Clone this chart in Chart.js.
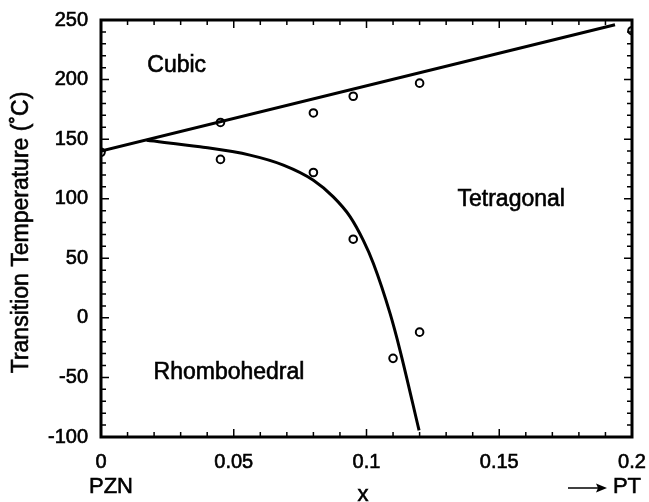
<!DOCTYPE html>
<html>
<head>
<meta charset="utf-8">
<script src="https://cdn.jsdelivr.net/npm/chart.js@4.4.0/dist/chart.umd.min.js"></script>
<style>
    html, body { margin: 0; padding: 0; background: #fff; }
</style>
</head>
<body>
<canvas id="diagramaFases" width="649" height="502"></canvas>
<script>
// Datos medidos (círculos)
const puntosX = [0, 0.045, 0.045, 0.08, 0.08, 0.095, 0.095, 0.12, 0.2, 0.11, 0.12];
const puntosY = [139, 164, 133, 172, 122, 186, 66, 197, 241, -34, -12];

// Frontera cúbica (recta)
const lineaCubicaX = [0, 0.1936];
const lineaCubicaY = [140, 246];

// Frontera romboédrica / tetragonal (curva)
const curvaRomboX = [0.0172, 0.0373, 0.0561, 0.0687, 0.08, 0.0875, 0.0938, 0.0988, 0.1026, 0.1089, 0.1126, 0.1198];
const curvaRomboY = [149, 143.6, 136.6, 128.2, 115.5, 101.5, 85, 65, 45.6, 3.5, -27, -94.5];

// Etiquetas de los ejes
const xTickLabels = ["0", "0.05", "0.1", "0.15", "0.2"];
const yTickLabels = ["-100", "-50", "0", "50", "100", "150", "200", "250"];

// Nombres de fases (posición en unidades de datos)
const fases = ["Cubic", "Tetragonal", "Rhombohedral"];
const fasesX = [0.0285, 0.1545, 0.0482];
const fasesY = [212, 99, -46];

const fuente = "'Liberation Sans', Arial, Helvetica, sans-serif";

function aPuntos(xs, ys) {
    return xs.map((x, i) => ({ x: x, y: ys[i] }));
}

// texto con un trazo fino para que se vea como el original escaneado
function texto(ctx, txt, x, y) {
    ctx.strokeText(txt, x, y);
    ctx.fillText(txt, x, y);
}

// Marco, marcas interiores y textos extra
const decoracion = {
    id: "decoracion",
    afterDraw(chart) {
        const ctx = chart.ctx;
        const area = chart.chartArea;
        const sx = chart.scales.x;
        const sy = chart.scales.y;

        ctx.save();
        ctx.strokeStyle = "#000";

        // marcas del eje x (abajo y arriba)
        ctx.lineWidth = 1.5;
        for (let i = 0; i <= 20; i++) {
            const px = sx.getPixelForValue(i * 0.01);
            const largo = i % 5 === 0 ? 8 : 5;
            ctx.beginPath();
            ctx.moveTo(px, area.bottom);
            ctx.lineTo(px, area.bottom - largo);
            ctx.moveTo(px, area.top);
            ctx.lineTo(px, area.top + largo);
            ctx.stroke();
        }
        // marcas del eje y (izquierda y derecha)
        for (let v = -100; v <= 250; v += 10) {
            const py = sy.getPixelForValue(v);
            const largo = v % 50 === 0 ? 8 : 5;
            ctx.beginPath();
            ctx.moveTo(area.left, py);
            ctx.lineTo(area.left + largo, py);
            ctx.moveTo(area.right, py);
            ctx.lineTo(area.right - largo, py);
            ctx.stroke();
        }

        // marco
        ctx.lineWidth = 3;
        ctx.strokeRect(area.left, area.top, area.right - area.left, area.bottom - area.top);

        ctx.fillStyle = "#000";
        ctx.lineWidth = 0.6;
        ctx.textAlign = "center";
        ctx.textBaseline = "middle";

        // nombres de fases
        ctx.font = "23px " + fuente;
        fases.forEach((txt, i) => {
            texto(ctx, txt, sx.getPixelForValue(fasesX[i]), sy.getPixelForValue(fasesY[i]));
        });

        // titulo eje y
        ctx.save();
        ctx.translate(22, (area.top + area.bottom) / 2 + 4);
        ctx.rotate(-Math.PI / 2);
        texto(ctx, "Transition Temperature (˚C)", 0, 0);
        ctx.restore();

        // textos bajo el eje x
        ctx.font = "22px " + fuente;
        texto(ctx, "PZN", sx.getPixelForValue(0) + 10, 487);
        texto(ctx, "x", 363, 495);
        ctx.textAlign = "right";
        texto(ctx, "PT", 641, 487);

        // flecha hacia PT
        ctx.lineWidth = 1.5;
        ctx.beginPath();
        ctx.moveTo(568, 488);
        ctx.lineTo(603, 488);
        ctx.stroke();
        ctx.beginPath();
        ctx.moveTo(607, 488);
        ctx.lineTo(596, 483.5);
        ctx.lineTo(598, 488);
        ctx.lineTo(596, 492.5);
        ctx.closePath();
        ctx.fill();

        ctx.restore();
    }
};

new Chart(document.getElementById("diagramaFases"), {
    type: "scatter",
    data: {
        datasets: [
            {
                data: aPuntos(lineaCubicaX, lineaCubicaY),
                showLine: true,
                borderColor: "#000",
                borderWidth: 3,
                pointRadius: 0
            },
            {
                data: aPuntos(curvaRomboX, curvaRomboY),
                showLine: true,
                cubicInterpolationMode: "monotone",
                borderColor: "#000",
                borderWidth: 3,
                pointRadius: 0
            },
            {
                data: aPuntos(puntosX, puntosY),
                showLine: false,
                pointStyle: "circle",
                pointRadius: 3.8,
                pointBorderWidth: 2,
                pointBorderColor: "#000",
                pointBackgroundColor: "rgba(0,0,0,0)"
            }
        ]
    },
    options: {
        responsive: false,
        animation: false,
        devicePixelRatio: 1,
        layout: { padding: { top: 20, right: 17, left: 0, bottom: 0 } },
        plugins: {
            legend: { display: false },
            tooltip: { enabled: false }
        },
        scales: {
            x: {
                type: "linear",
                min: 0,
                max: 0.2,
                grid: { display: false, drawTicks: false },
                border: { display: false },
                ticks: {
                    stepSize: 0.05,
                    padding: 13,
                    color: "#000",
                    maxRotation: 0,
                    textStrokeColor: "#000",
                    textStrokeWidth: 0.6,
                    font: { family: fuente, size: 20 },
                    callback: (value, index) => xTickLabels[index]
                },
                afterFit: (scale) => {
                    scale.height = 65;
                    scale.paddingLeft = 0;
                    scale.paddingRight = 0;
                }
            },
            y: {
                type: "linear",
                min: -100,
                max: 250,
                grid: { display: false, drawTicks: false },
                border: { display: false },
                ticks: {
                    stepSize: 50,
                    padding: 13,
                    color: "#000",
                    textStrokeColor: "#000",
                    textStrokeWidth: 0.6,
                    font: { family: fuente, size: 20 },
                    callback: (value, index) => yTickLabels[index]
                },
                afterFit: (scale) => {
                    scale.width = 101;
                    scale.paddingTop = 0;
                    scale.paddingBottom = 0;
                }
            }
        }
    },
    plugins: [decoracion]
});
</script>
</body>
</html>
